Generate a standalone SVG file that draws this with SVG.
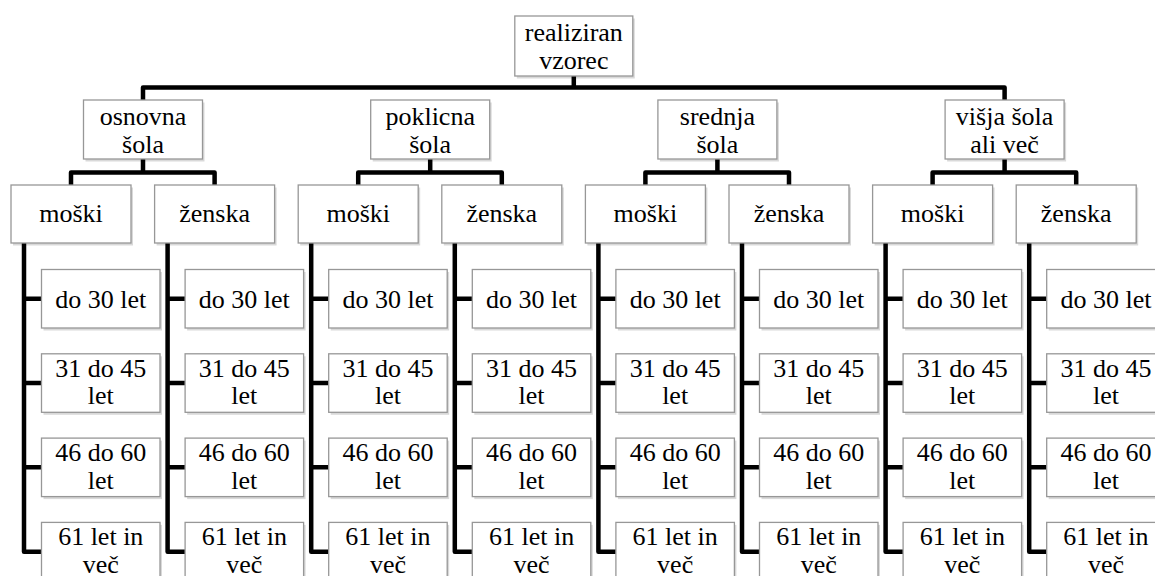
<svg xmlns="http://www.w3.org/2000/svg" width="1155" height="576" viewBox="0 0 1155 576">
<rect width="1155" height="576" fill="#fff"/>
<g id="connectors" fill="none" stroke="#000" stroke-width="4.5" stroke-linejoin="round">
<path d="M573.8 76V87.5M143 100V87.5H1004.6V100"/>
<path d="M143 159V172.5M71 185V172.5H214.6V185"/>
<path d="M430.2 159V172.5M358.2 185V172.5H501.8V185"/>
<path d="M717.4 159V172.5M645.4 185V172.5H789V185"/>
<path d="M1004.6 159V172.5M932.6 185V172.5H1076.2V185"/>
<path d="M24 243v308.65h17.5M24 298.75h17.5M24 383.05h17.5M24 467.35h17.5"/>
<path d="M167.6 243v308.65h17.5M167.6 298.75h17.5M167.6 383.05h17.5M167.6 467.35h17.5"/>
<path d="M311.2 243v308.65h17.5M311.2 298.75h17.5M311.2 383.05h17.5M311.2 467.35h17.5"/>
<path d="M454.8 243v308.65h17.5M454.8 298.75h17.5M454.8 383.05h17.5M454.8 467.35h17.5"/>
<path d="M598.4 243v308.65h17.5M598.4 298.75h17.5M598.4 383.05h17.5M598.4 467.35h17.5"/>
<path d="M742 243v308.65h17.5M742 298.75h17.5M742 383.05h17.5M742 467.35h17.5"/>
<path d="M885.6 243v308.65h17.5M885.6 298.75h17.5M885.6 383.05h17.5M885.6 467.35h17.5"/>
<path d="M1029.2 243v308.65h17.5M1029.2 298.75h17.5M1029.2 383.05h17.5M1029.2 467.35h17.5"/>
</g>
<g id="root"><rect x="516.8" y="18.5" width="118" height="60" fill="#000" fill-opacity="0.15"/><rect x="514.8" y="16" width="118" height="60" fill="#fff" stroke="#979797" stroke-width="1.3"/><text font-family="Liberation Serif" font-size="26" text-anchor="middle"><tspan x="573.8" y="41">realiziran</tspan><tspan x="573.8" y="68.5">vzorec</tspan></text></g>
<g id="edu1"><rect x="85.5" y="102.5" width="119" height="59" fill="#000" fill-opacity="0.15"/><rect x="83.5" y="100" width="119" height="59" fill="#fff" stroke="#979797" stroke-width="1.3"/><text font-family="Liberation Serif" font-size="26" text-anchor="middle"><tspan x="143" y="125">osnovna</tspan><tspan x="143" y="152.5">šola</tspan></text></g>
<g id="edu2"><rect x="372.7" y="102.5" width="119" height="59" fill="#000" fill-opacity="0.15"/><rect x="370.7" y="100" width="119" height="59" fill="#fff" stroke="#979797" stroke-width="1.3"/><text font-family="Liberation Serif" font-size="26" text-anchor="middle"><tspan x="430.2" y="125">poklicna</tspan><tspan x="430.2" y="152.5">šola</tspan></text></g>
<g id="edu3"><rect x="659.9" y="102.5" width="119" height="59" fill="#000" fill-opacity="0.15"/><rect x="657.9" y="100" width="119" height="59" fill="#fff" stroke="#979797" stroke-width="1.3"/><text font-family="Liberation Serif" font-size="26" text-anchor="middle"><tspan x="717.4" y="125">srednja</tspan><tspan x="717.4" y="152.5">šola</tspan></text></g>
<g id="edu4"><rect x="947.1" y="102.5" width="119" height="59" fill="#000" fill-opacity="0.15"/><rect x="945.1" y="100" width="119" height="59" fill="#fff" stroke="#979797" stroke-width="1.3"/><text font-family="Liberation Serif" font-size="26" text-anchor="middle"><tspan x="1004.6" y="125">višja šola</tspan><tspan x="1004.6" y="152.5">ali več</tspan></text></g>
<g id="g1"><rect x="13" y="187.5" width="120" height="58" fill="#000" fill-opacity="0.15"/><rect x="11" y="185" width="120" height="58" fill="#fff" stroke="#979797" stroke-width="1.3"/><text font-family="Liberation Serif" font-size="26" text-anchor="middle" x="71" y="222">moški</text></g>
<g id="g2"><rect x="156.6" y="187.5" width="120" height="58" fill="#000" fill-opacity="0.15"/><rect x="154.6" y="185" width="120" height="58" fill="#fff" stroke="#979797" stroke-width="1.3"/><text font-family="Liberation Serif" font-size="26" text-anchor="middle" x="214.6" y="222">ženska</text></g>
<g id="g3"><rect x="300.2" y="187.5" width="120" height="58" fill="#000" fill-opacity="0.15"/><rect x="298.2" y="185" width="120" height="58" fill="#fff" stroke="#979797" stroke-width="1.3"/><text font-family="Liberation Serif" font-size="26" text-anchor="middle" x="358.2" y="222">moški</text></g>
<g id="g4"><rect x="443.8" y="187.5" width="120" height="58" fill="#000" fill-opacity="0.15"/><rect x="441.8" y="185" width="120" height="58" fill="#fff" stroke="#979797" stroke-width="1.3"/><text font-family="Liberation Serif" font-size="26" text-anchor="middle" x="501.8" y="222">ženska</text></g>
<g id="g5"><rect x="587.4" y="187.5" width="120" height="58" fill="#000" fill-opacity="0.15"/><rect x="585.4" y="185" width="120" height="58" fill="#fff" stroke="#979797" stroke-width="1.3"/><text font-family="Liberation Serif" font-size="26" text-anchor="middle" x="645.4" y="222">moški</text></g>
<g id="g6"><rect x="731" y="187.5" width="120" height="58" fill="#000" fill-opacity="0.15"/><rect x="729" y="185" width="120" height="58" fill="#fff" stroke="#979797" stroke-width="1.3"/><text font-family="Liberation Serif" font-size="26" text-anchor="middle" x="789" y="222">ženska</text></g>
<g id="g7"><rect x="874.6" y="187.5" width="120" height="58" fill="#000" fill-opacity="0.15"/><rect x="872.6" y="185" width="120" height="58" fill="#fff" stroke="#979797" stroke-width="1.3"/><text font-family="Liberation Serif" font-size="26" text-anchor="middle" x="932.6" y="222">moški</text></g>
<g id="g8"><rect x="1018.2" y="187.5" width="120" height="58" fill="#000" fill-opacity="0.15"/><rect x="1016.2" y="185" width="120" height="58" fill="#fff" stroke="#979797" stroke-width="1.3"/><text font-family="Liberation Serif" font-size="26" text-anchor="middle" x="1076.2" y="222">ženska</text></g>
<g id="a1a"><rect x="43.5" y="272" width="118.5" height="58.5" fill="#000" fill-opacity="0.15"/><rect x="41.5" y="269.5" width="118.5" height="58.5" fill="#fff" stroke="#979797" stroke-width="1.3"/><text font-family="Liberation Serif" font-size="26" text-anchor="middle" x="100.75" y="307.5">do 30 let</text></g>
<g id="a1b"><rect x="43.5" y="356.3" width="118.5" height="58.5" fill="#000" fill-opacity="0.15"/><rect x="41.5" y="353.8" width="118.5" height="58.5" fill="#fff" stroke="#979797" stroke-width="1.3"/><text font-family="Liberation Serif" font-size="26" text-anchor="middle"><tspan x="100.75" y="376.8">31 do 45</tspan><tspan x="100.75" y="404.3">let</tspan></text></g>
<g id="a1c"><rect x="43.5" y="440.6" width="118.5" height="58.5" fill="#000" fill-opacity="0.15"/><rect x="41.5" y="438.1" width="118.5" height="58.5" fill="#fff" stroke="#979797" stroke-width="1.3"/><text font-family="Liberation Serif" font-size="26" text-anchor="middle"><tspan x="100.75" y="461.1">46 do 60</tspan><tspan x="100.75" y="488.6">let</tspan></text></g>
<g id="a1d"><rect x="43.5" y="524.9" width="118.5" height="58.5" fill="#000" fill-opacity="0.15"/><rect x="41.5" y="522.4" width="118.5" height="58.5" fill="#fff" stroke="#979797" stroke-width="1.3"/><text font-family="Liberation Serif" font-size="26" text-anchor="middle"><tspan x="100.75" y="545.4">61 let in</tspan><tspan x="100.75" y="572.9">več</tspan></text></g>
<g id="a2a"><rect x="187.1" y="272" width="118.5" height="58.5" fill="#000" fill-opacity="0.15"/><rect x="185.1" y="269.5" width="118.5" height="58.5" fill="#fff" stroke="#979797" stroke-width="1.3"/><text font-family="Liberation Serif" font-size="26" text-anchor="middle" x="244.35" y="307.5">do 30 let</text></g>
<g id="a2b"><rect x="187.1" y="356.3" width="118.5" height="58.5" fill="#000" fill-opacity="0.15"/><rect x="185.1" y="353.8" width="118.5" height="58.5" fill="#fff" stroke="#979797" stroke-width="1.3"/><text font-family="Liberation Serif" font-size="26" text-anchor="middle"><tspan x="244.35" y="376.8">31 do 45</tspan><tspan x="244.35" y="404.3">let</tspan></text></g>
<g id="a2c"><rect x="187.1" y="440.6" width="118.5" height="58.5" fill="#000" fill-opacity="0.15"/><rect x="185.1" y="438.1" width="118.5" height="58.5" fill="#fff" stroke="#979797" stroke-width="1.3"/><text font-family="Liberation Serif" font-size="26" text-anchor="middle"><tspan x="244.35" y="461.1">46 do 60</tspan><tspan x="244.35" y="488.6">let</tspan></text></g>
<g id="a2d"><rect x="187.1" y="524.9" width="118.5" height="58.5" fill="#000" fill-opacity="0.15"/><rect x="185.1" y="522.4" width="118.5" height="58.5" fill="#fff" stroke="#979797" stroke-width="1.3"/><text font-family="Liberation Serif" font-size="26" text-anchor="middle"><tspan x="244.35" y="545.4">61 let in</tspan><tspan x="244.35" y="572.9">več</tspan></text></g>
<g id="a3a"><rect x="330.7" y="272" width="118.5" height="58.5" fill="#000" fill-opacity="0.15"/><rect x="328.7" y="269.5" width="118.5" height="58.5" fill="#fff" stroke="#979797" stroke-width="1.3"/><text font-family="Liberation Serif" font-size="26" text-anchor="middle" x="387.95" y="307.5">do 30 let</text></g>
<g id="a3b"><rect x="330.7" y="356.3" width="118.5" height="58.5" fill="#000" fill-opacity="0.15"/><rect x="328.7" y="353.8" width="118.5" height="58.5" fill="#fff" stroke="#979797" stroke-width="1.3"/><text font-family="Liberation Serif" font-size="26" text-anchor="middle"><tspan x="387.95" y="376.8">31 do 45</tspan><tspan x="387.95" y="404.3">let</tspan></text></g>
<g id="a3c"><rect x="330.7" y="440.6" width="118.5" height="58.5" fill="#000" fill-opacity="0.15"/><rect x="328.7" y="438.1" width="118.5" height="58.5" fill="#fff" stroke="#979797" stroke-width="1.3"/><text font-family="Liberation Serif" font-size="26" text-anchor="middle"><tspan x="387.95" y="461.1">46 do 60</tspan><tspan x="387.95" y="488.6">let</tspan></text></g>
<g id="a3d"><rect x="330.7" y="524.9" width="118.5" height="58.5" fill="#000" fill-opacity="0.15"/><rect x="328.7" y="522.4" width="118.5" height="58.5" fill="#fff" stroke="#979797" stroke-width="1.3"/><text font-family="Liberation Serif" font-size="26" text-anchor="middle"><tspan x="387.95" y="545.4">61 let in</tspan><tspan x="387.95" y="572.9">več</tspan></text></g>
<g id="a4a"><rect x="474.3" y="272" width="118.5" height="58.5" fill="#000" fill-opacity="0.15"/><rect x="472.3" y="269.5" width="118.5" height="58.5" fill="#fff" stroke="#979797" stroke-width="1.3"/><text font-family="Liberation Serif" font-size="26" text-anchor="middle" x="531.55" y="307.5">do 30 let</text></g>
<g id="a4b"><rect x="474.3" y="356.3" width="118.5" height="58.5" fill="#000" fill-opacity="0.15"/><rect x="472.3" y="353.8" width="118.5" height="58.5" fill="#fff" stroke="#979797" stroke-width="1.3"/><text font-family="Liberation Serif" font-size="26" text-anchor="middle"><tspan x="531.55" y="376.8">31 do 45</tspan><tspan x="531.55" y="404.3">let</tspan></text></g>
<g id="a4c"><rect x="474.3" y="440.6" width="118.5" height="58.5" fill="#000" fill-opacity="0.15"/><rect x="472.3" y="438.1" width="118.5" height="58.5" fill="#fff" stroke="#979797" stroke-width="1.3"/><text font-family="Liberation Serif" font-size="26" text-anchor="middle"><tspan x="531.55" y="461.1">46 do 60</tspan><tspan x="531.55" y="488.6">let</tspan></text></g>
<g id="a4d"><rect x="474.3" y="524.9" width="118.5" height="58.5" fill="#000" fill-opacity="0.15"/><rect x="472.3" y="522.4" width="118.5" height="58.5" fill="#fff" stroke="#979797" stroke-width="1.3"/><text font-family="Liberation Serif" font-size="26" text-anchor="middle"><tspan x="531.55" y="545.4">61 let in</tspan><tspan x="531.55" y="572.9">več</tspan></text></g>
<g id="a5a"><rect x="617.9" y="272" width="118.5" height="58.5" fill="#000" fill-opacity="0.15"/><rect x="615.9" y="269.5" width="118.5" height="58.5" fill="#fff" stroke="#979797" stroke-width="1.3"/><text font-family="Liberation Serif" font-size="26" text-anchor="middle" x="675.15" y="307.5">do 30 let</text></g>
<g id="a5b"><rect x="617.9" y="356.3" width="118.5" height="58.5" fill="#000" fill-opacity="0.15"/><rect x="615.9" y="353.8" width="118.5" height="58.5" fill="#fff" stroke="#979797" stroke-width="1.3"/><text font-family="Liberation Serif" font-size="26" text-anchor="middle"><tspan x="675.15" y="376.8">31 do 45</tspan><tspan x="675.15" y="404.3">let</tspan></text></g>
<g id="a5c"><rect x="617.9" y="440.6" width="118.5" height="58.5" fill="#000" fill-opacity="0.15"/><rect x="615.9" y="438.1" width="118.5" height="58.5" fill="#fff" stroke="#979797" stroke-width="1.3"/><text font-family="Liberation Serif" font-size="26" text-anchor="middle"><tspan x="675.15" y="461.1">46 do 60</tspan><tspan x="675.15" y="488.6">let</tspan></text></g>
<g id="a5d"><rect x="617.9" y="524.9" width="118.5" height="58.5" fill="#000" fill-opacity="0.15"/><rect x="615.9" y="522.4" width="118.5" height="58.5" fill="#fff" stroke="#979797" stroke-width="1.3"/><text font-family="Liberation Serif" font-size="26" text-anchor="middle"><tspan x="675.15" y="545.4">61 let in</tspan><tspan x="675.15" y="572.9">več</tspan></text></g>
<g id="a6a"><rect x="761.5" y="272" width="118.5" height="58.5" fill="#000" fill-opacity="0.15"/><rect x="759.5" y="269.5" width="118.5" height="58.5" fill="#fff" stroke="#979797" stroke-width="1.3"/><text font-family="Liberation Serif" font-size="26" text-anchor="middle" x="818.75" y="307.5">do 30 let</text></g>
<g id="a6b"><rect x="761.5" y="356.3" width="118.5" height="58.5" fill="#000" fill-opacity="0.15"/><rect x="759.5" y="353.8" width="118.5" height="58.5" fill="#fff" stroke="#979797" stroke-width="1.3"/><text font-family="Liberation Serif" font-size="26" text-anchor="middle"><tspan x="818.75" y="376.8">31 do 45</tspan><tspan x="818.75" y="404.3">let</tspan></text></g>
<g id="a6c"><rect x="761.5" y="440.6" width="118.5" height="58.5" fill="#000" fill-opacity="0.15"/><rect x="759.5" y="438.1" width="118.5" height="58.5" fill="#fff" stroke="#979797" stroke-width="1.3"/><text font-family="Liberation Serif" font-size="26" text-anchor="middle"><tspan x="818.75" y="461.1">46 do 60</tspan><tspan x="818.75" y="488.6">let</tspan></text></g>
<g id="a6d"><rect x="761.5" y="524.9" width="118.5" height="58.5" fill="#000" fill-opacity="0.15"/><rect x="759.5" y="522.4" width="118.5" height="58.5" fill="#fff" stroke="#979797" stroke-width="1.3"/><text font-family="Liberation Serif" font-size="26" text-anchor="middle"><tspan x="818.75" y="545.4">61 let in</tspan><tspan x="818.75" y="572.9">več</tspan></text></g>
<g id="a7a"><rect x="905.1" y="272" width="118.5" height="58.5" fill="#000" fill-opacity="0.15"/><rect x="903.1" y="269.5" width="118.5" height="58.5" fill="#fff" stroke="#979797" stroke-width="1.3"/><text font-family="Liberation Serif" font-size="26" text-anchor="middle" x="962.35" y="307.5">do 30 let</text></g>
<g id="a7b"><rect x="905.1" y="356.3" width="118.5" height="58.5" fill="#000" fill-opacity="0.15"/><rect x="903.1" y="353.8" width="118.5" height="58.5" fill="#fff" stroke="#979797" stroke-width="1.3"/><text font-family="Liberation Serif" font-size="26" text-anchor="middle"><tspan x="962.35" y="376.8">31 do 45</tspan><tspan x="962.35" y="404.3">let</tspan></text></g>
<g id="a7c"><rect x="905.1" y="440.6" width="118.5" height="58.5" fill="#000" fill-opacity="0.15"/><rect x="903.1" y="438.1" width="118.5" height="58.5" fill="#fff" stroke="#979797" stroke-width="1.3"/><text font-family="Liberation Serif" font-size="26" text-anchor="middle"><tspan x="962.35" y="461.1">46 do 60</tspan><tspan x="962.35" y="488.6">let</tspan></text></g>
<g id="a7d"><rect x="905.1" y="524.9" width="118.5" height="58.5" fill="#000" fill-opacity="0.15"/><rect x="903.1" y="522.4" width="118.5" height="58.5" fill="#fff" stroke="#979797" stroke-width="1.3"/><text font-family="Liberation Serif" font-size="26" text-anchor="middle"><tspan x="962.35" y="545.4">61 let in</tspan><tspan x="962.35" y="572.9">več</tspan></text></g>
<g id="a8a"><rect x="1048.7" y="272" width="118.5" height="58.5" fill="#000" fill-opacity="0.15"/><rect x="1046.7" y="269.5" width="118.5" height="58.5" fill="#fff" stroke="#979797" stroke-width="1.3"/><text font-family="Liberation Serif" font-size="26" text-anchor="middle" x="1105.95" y="307.5">do 30 let</text></g>
<g id="a8b"><rect x="1048.7" y="356.3" width="118.5" height="58.5" fill="#000" fill-opacity="0.15"/><rect x="1046.7" y="353.8" width="118.5" height="58.5" fill="#fff" stroke="#979797" stroke-width="1.3"/><text font-family="Liberation Serif" font-size="26" text-anchor="middle"><tspan x="1105.95" y="376.8">31 do 45</tspan><tspan x="1105.95" y="404.3">let</tspan></text></g>
<g id="a8c"><rect x="1048.7" y="440.6" width="118.5" height="58.5" fill="#000" fill-opacity="0.15"/><rect x="1046.7" y="438.1" width="118.5" height="58.5" fill="#fff" stroke="#979797" stroke-width="1.3"/><text font-family="Liberation Serif" font-size="26" text-anchor="middle"><tspan x="1105.95" y="461.1">46 do 60</tspan><tspan x="1105.95" y="488.6">let</tspan></text></g>
<g id="a8d"><rect x="1048.7" y="524.9" width="118.5" height="58.5" fill="#000" fill-opacity="0.15"/><rect x="1046.7" y="522.4" width="118.5" height="58.5" fill="#fff" stroke="#979797" stroke-width="1.3"/><text font-family="Liberation Serif" font-size="26" text-anchor="middle"><tspan x="1105.95" y="545.4">61 let in</tspan><tspan x="1105.95" y="572.9">več</tspan></text></g>
</svg>
